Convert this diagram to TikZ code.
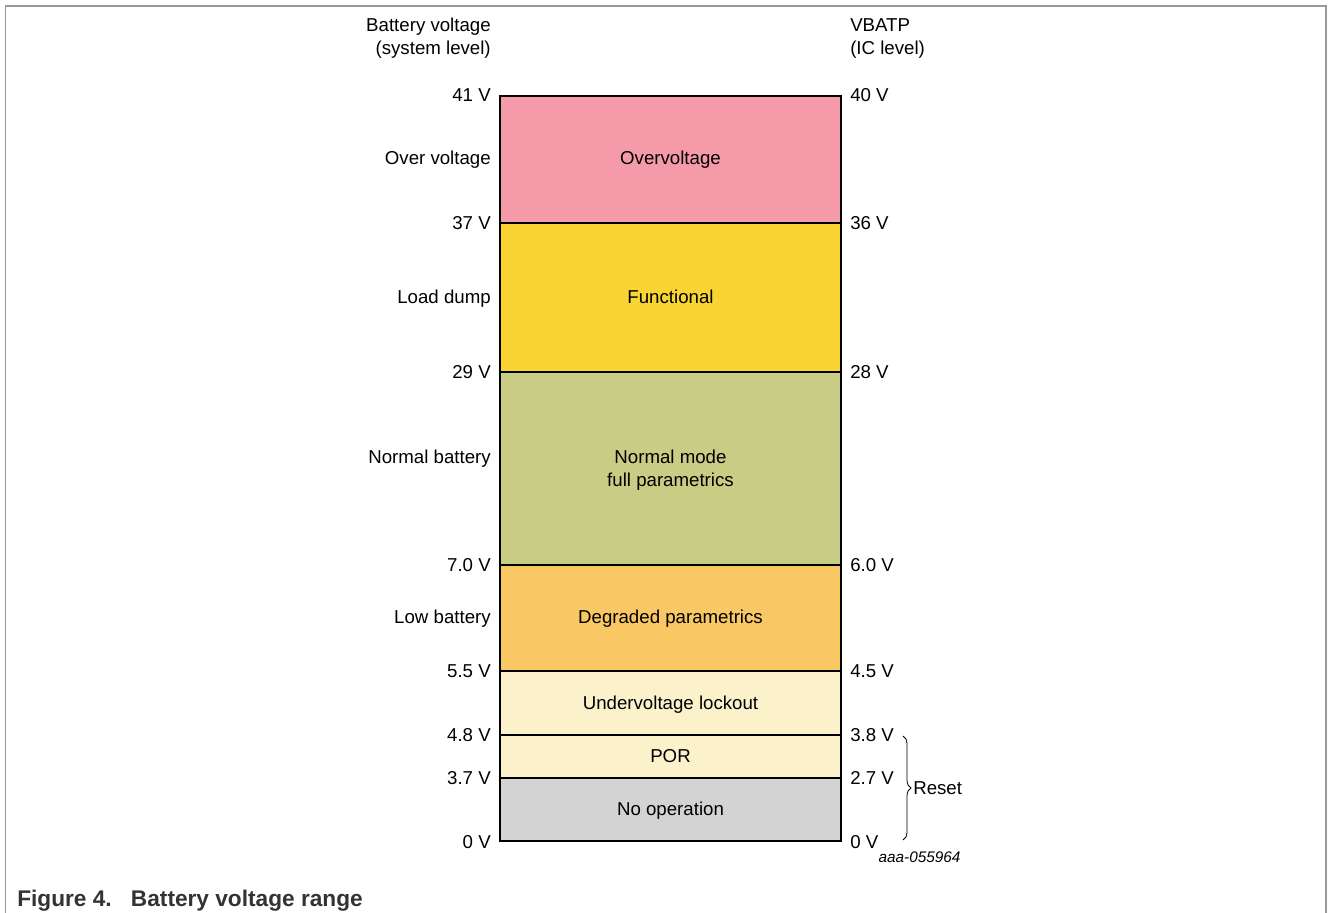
\documentclass[tikz,border=0pt]{standalone}
\usepackage{fontspec}
\setmainfont{Liberation Sans}
\usetikzlibrary{decorations.pathreplacing}

\definecolor{ovpink}{HTML}{F59AA8}
\definecolor{funcyel}{HTML}{FAD432}
\definecolor{normgrn}{HTML}{C8CC85}
\definecolor{degorg}{HTML}{F9C864}
\definecolor{uvcream}{HTML}{FBF1CB}
\definecolor{nogray}{HTML}{D3D3D3}
\definecolor{capgray}{HTML}{333333}

\tikzset{
  lbl/.style={font=\fontsize{14}{17.25}\selectfont, inner sep=0pt},
  lft/.style={lbl, anchor=base east},
  rgt/.style={lbl, anchor=base west},
  zone/.style={lbl, anchor=base, align=center},
  band/.style={draw=black, line width=1.5pt},
}

\begin{document}
\begin{tikzpicture}[x=0.75pt, y=-0.75pt]
  \useasboundingbox (0,0) rectangle (1328,913);
  % frame
  \draw [gray!80, line width=1pt] (5.5,913) -- (5.5,6) -- (1326,6) -- (1326,913);

  % bands
  \fill [ovpink]  (500,96)  rectangle (841,223);
  \fill [funcyel] (500,223) rectangle (841,372);
  \fill [normgrn] (500,372) rectangle (841,565);
  \fill [degorg]  (500,565) rectangle (841,671);
  \fill [uvcream] (500,671) rectangle (841,778);
  \fill [nogray]  (500,778) rectangle (841,841);
  \draw [band] (500,96) rectangle (841,841);
  \draw [band] (500,223) -- (841,223);
  \draw [band] (500,372) -- (841,372);
  \draw [band] (500,565) -- (841,565);
  \draw [band] (500,671) -- (841,671);
  \draw [band] (500,735) -- (841,735);
  \draw [band] (500,778) -- (841,778);

  % headings (base = last line)
  \node [lft, align=right] (hsys) at (491,54.5) {Battery voltage\\(system level)};
  \node [rgt, align=left] (hic) at (850,54.5) {VBATP\\(IC level)};

  % system level voltages
  \node [lft] (s41) at (491,102) {41 V};
  \node [lft] (s37) at (491,229) {37 V};
  \node [lft] (s29) at (491,378) {29 V};
  \node [lft] (s7) at (491,571) {7.0 V};
  \node [lft] (s55) at (491,677) {5.5 V};
  \node [lft] (s48) at (491,741) {4.8 V};
  \node [lft] (s37b) at (491,784) {3.7 V};
  \node [lft] (s0) at (491,848) {0 V};

  % IC level voltages
  \node [rgt] (i40) at (850,102) {40 V};
  \node [rgt] (i36) at (850,229) {36 V};
  \node [rgt] (i28) at (850,378) {28 V};
  \node [rgt] (i6) at (850,571) {6.0 V};
  \node [rgt] (i45) at (850,677) {4.5 V};
  \node [rgt] (i38) at (850,741) {3.8 V};
  \node [rgt] (i27) at (850,784) {2.7 V};
  \node [rgt] (i0) at (850,848) {0 V};

  % system ranges
  \node [lft] (over) at (491,164.5) {Over voltage};
  \node [lft] (dump) at (491,303.5) {Load dump};
  \node [lft] (norm) at (491,463.5) {Normal battery};
  \node [lft] (low) at (491,623.5) {Low battery};

  % IC modes
  \node [zone] (mov) at (670.5,164.5) {Overvoltage};
  \node [zone] (mfun) at (670.5,303.5) {Functional};
  \node [zone] (mnorm) at (670.5,486.5) {Normal mode\\full parametrics};
  \node [zone] (mdeg) at (670.5,623.5) {Degraded parametrics};
  \node [zone] (muv) at (670.5,709.5) {Undervoltage lockout};
  \node [zone] (mpor) at (670.5,762.5) {POR};
  \node [zone] (mnop) at (670.5,815.5) {No operation};

  % reset brace
  \coordinate (rtop) at (903,736);
  \coordinate (rbot) at (903,840);
  \draw [semithick, decorate, decoration={brace, amplitude=6pt}] (rtop) -- (rbot);
  \node [rgt] (reset) at (913,794) {Reset};

  \node [lbl, anchor=base, font=\fontsize{11.5}{13}\selectfont\itshape] (ref) at (919.5,862) {aaa-055964};
  \node [lbl, anchor=base west, text=capgray, font=\fontsize{17}{20}\selectfont\bfseries] (cap) at (17,906) {Figure 4.\hspace{0.85em}Battery voltage range};
\end{tikzpicture}
\end{document}
